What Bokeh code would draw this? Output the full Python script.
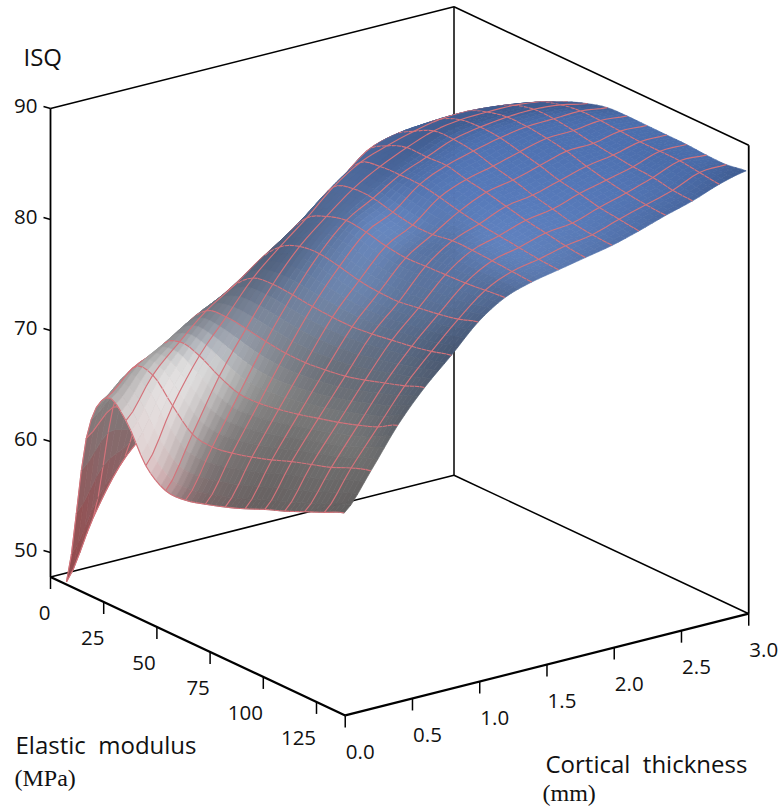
import numpy as np
from bokeh.plotting import figure
from bokeh.models import Range1d
from bokeh.core.properties import value
from bokeh.embed import file_html
from bokeh.resources import INLINE

# ---- data ----
thickness_mm = [0.0, 0.2, 0.4, 0.6, 0.8, 1.0, 1.2, 1.4, 1.6, 1.8, 2.0, 2.2, 2.4, 2.6, 2.8, 3.0]
modulus_mpa = [7.5, 16.8, 26.0, 35.5, 44.8, 54.0, 63.4, 72.7, 82.0, 91.4, 100.7, 110.0, 119.3, 128.7, 138.0]
isq_t00 = [48.0, 61.8, 66.3, 65.1, 61.9, 60.5, 60.5, 61.0, 61.6, 62.3, 63.1, 63.8, 64.6, 65.4, 66.2]
isq_t02 = [53.2, 64.0, 68.4, 68.6, 66.7, 65.0, 64.7, 65.0, 65.5, 66.1, 66.8, 67.4, 68.0, 68.8, 69.4]
isq_t04 = [57.3, 63.1, 69.5, 71.0, 70.6, 69.6, 68.9, 68.9, 69.2, 69.6, 70.1, 70.6, 71.2, 71.9, 72.9]
isq_t06 = [59.8, 66.0, 71.0, 73.2, 73.5, 73.3, 73.0, 72.8, 72.8, 73.0, 73.3, 73.8, 74.4, 75.0, 75.7]
isq_t08 = [62.0, 67.0, 72.0, 74.8, 76.4, 76.7, 76.6, 76.4, 76.3, 76.3, 76.5, 76.8, 77.1, 77.5, 78.0]
isq_t10 = [64.0, 68.5, 73.5, 76.6, 78.6, 79.5, 79.7, 79.4, 79.0, 78.8, 78.8, 79.1, 79.4, 79.8, 80.4]
isq_t12 = [66.0, 70.0, 75.0, 78.2, 80.6, 81.6, 82.1, 81.9, 81.5, 81.3, 81.4, 81.5, 81.6, 81.8, 82.0]
isq_t14 = [68.0, 72.0, 76.5, 80.0, 82.8, 83.5, 83.5, 83.1, 82.8, 82.8, 83.1, 83.1, 83.0, 82.9, 82.8]
isq_t16 = [70.0, 74.0, 78.5, 82.0, 84.4, 84.9, 85.0, 85.0, 84.7, 84.3, 84.0, 83.8, 83.6, 83.4, 83.3]
isq_t18 = [72.0, 76.0, 80.5, 84.0, 85.3, 86.0, 86.0, 86.1, 85.7, 85.4, 85.0, 84.6, 84.3, 84.0, 83.8]
isq_t20 = [74.0, 78.0, 82.0, 84.8, 86.0, 86.9, 87.0, 86.8, 86.3, 85.9, 85.4, 85.0, 84.6, 84.4, 84.3]
isq_t22 = [76.0, 79.5, 82.8, 85.0, 86.5, 87.3, 87.5, 87.4, 87.0, 86.6, 86.1, 85.8, 85.4, 85.2, 85.0]
isq_t24 = [77.5, 80.5, 83.2, 84.9, 86.6, 87.4, 87.8, 87.8, 87.6, 87.3, 86.8, 86.4, 86.1, 85.9, 85.8]
isq_t26 = [79.0, 81.5, 83.4, 84.8, 86.4, 87.4, 87.9, 87.9, 87.7, 87.4, 87.2, 87.0, 86.9, 86.6, 86.5]
isq_t28 = [80.2, 82.0, 83.5, 84.7, 86.0, 87.1, 87.7, 88.0, 88.0, 87.9, 87.8, 87.8, 87.8, 87.6, 87.4]
isq_t30 = [81.3, 82.5, 83.5, 84.6, 85.5, 86.5, 87.2, 87.7, 87.8, 87.8, 87.8, 87.8, 87.7, 87.7, 88.0]
isq_rows = [isq_t00, isq_t02, isq_t04, isq_t06, isq_t08, isq_t10, isq_t12, isq_t14,
            isq_t16, isq_t18, isq_t20, isq_t22, isq_t24, isq_t26, isq_t28, isq_t30]

isq_ticks = [50, 60, 70, 80, 90]
modulus_ticks = [0, 25, 50, 75, 100, 125]
modulus_labels = ["0", "25", "50", "75", "100", "125"]
thickness_ticks = [0.0, 0.5, 1.0, 1.5, 2.0, 2.5, 3.0]
thickness_labels = ["0.0", "0.5", "1.0", "1.5", "2.0", "2.5", "3.0"]

# ---- box of the 3D view ----
E_MAX, T_MAX, Z_LO, Z_HI = 138.5, 3.0, 47.8, 90.0


def proj_box(E, t, z):
    E, t, z = np.asarray(E, float), np.asarray(t, float), np.asarray(z, float)
    return 50 + 2.128 * E + 134.5 * t, 108 + 1.0 * E - 33.9 * t + 11.1 * (Z_HI - z)


def proj(E, t, z):
    E, t, z = np.asarray(E, float), np.asarray(t, float), np.asarray(z, float)
    return 50 + 2.128 * E + 134.0 * t, 107.6 + 1.02 * E - 33.4 * t + 11.1 * (Z_HI - z)


# ---- smooth resampling of the surface for drawing only ----
SUB = 4


def cr_weights(n, sub):
    m = (n - 1) * sub + 1
    W = np.zeros((m, n))
    for q in range(m):
        u = q / sub
        i = min(int(u), n - 2)
        s = u - i
        w = [-0.5 * s**3 + s**2 - 0.5 * s, 1.5 * s**3 - 2.5 * s**2 + 1,
             -1.5 * s**3 + 2 * s**2 + 0.5 * s, 0.5 * s**3 - 0.5 * s**2]
        for k, off in enumerate((-1, 0, 1, 2)):
            W[q, min(max(i + off, 0), n - 1)] += w[k]
    return W


Z = np.array(isq_rows)  # rows t, cols E
Wt = cr_weights(len(thickness_mm), SUB)
WE = cr_weights(len(modulus_mpa), SUB)
ZZ = Wt @ Z @ WE.T
EE = np.linspace(modulus_mpa[0], modulus_mpa[-1], ZZ.shape[1])
TT = np.linspace(thickness_mm[0], thickness_mm[-1], ZZ.shape[0])
Eg, Tg = np.meshgrid(EE, TT)
X, Y = proj(Eg, Tg, ZZ)


def blur(a, n):
    a = a.copy()
    for _ in range(n):
        b = np.pad(a, 1, mode="edge")
        a = (b[:-2, 1:-1] + b[2:, 1:-1] + b[1:-1, :-2] + b[1:-1, 2:] + 2 * a) / 6
    return a


# lighting + height colour
sz = (ZZ - 48) / 42 * 0.8
dz_t, dz_E = np.gradient(sz, TT / 3, EE / 138)
nlen = np.sqrt(dz_t**2 + dz_E**2 + 1)
nE, nT, nZ = -dz_E / nlen, -dz_t / nlen, 1 / nlen
L = np.array([0.6, 0.1, 0.8]) / np.linalg.norm([0.6, 0.1, 0.8])
nl = nE * L[0] + nT * L[1] + nZ * L[2]
raw = 1 - 1.1 * (0.8 - nl) + 1.0 * blur(nE, 20)
bright = blur(np.clip(raw, 0.58, 1.03), 14)
ZC = blur(ZZ, 2)
# the high plateau stays evenly lit
bright = bright + (np.maximum(bright, 0.84) - bright) * np.clip((ZC - 78) / 6, 0, 1)
# soft darkening towards the near (large modulus) rim
rim = np.clip((Eg - 105) / 33, 0, 1) ** 2
bright = bright * (1 - 0.1 * rim)
# the low front band on the large-modulus side is a plain mid grey
band = np.clip((Eg - 55) / 40, 0, 1) * np.clip((75 - ZC) / 6, 0, 1)
bright = bright * (1 - 0.2 * blur(band, 6))
zs = [50, 55, 60, 63, 66, 70, 73, 78, 85, 88]
rs = [255, 252, 232, 222, 232, 250, 190, 135, 86, 74]
gs = [128, 150, 180, 208, 225, 250, 200, 165, 120, 108]
bs = [132, 155, 184, 208, 225, 250, 218, 215, 182, 170]
R = np.interp(ZC, zs, rs) * bright
G = np.interp(ZC, zs, gs) * bright
B = np.interp(ZC, zs, bs) * bright


def hexc(r, g, b):
    return "#%02x%02x%02x" % (int(min(r, 255)), int(min(g, 255)), int(min(b, 255)))


# ---- figure ----
p = figure(width=779, height=807, output_backend="svg", toolbar_location=None,
           x_range=Range1d(0, 779), y_range=Range1d(807, 0),
           x_axis_type=None, y_axis_type=None, min_border=0)
p.outline_line_color = None
p.grid.visible = False
p.background_fill_color = "#ffffff"
AX = "#000000"


def seg(a, b, w):
    xa, ya = proj_box(*a)
    xb, yb = proj_box(*b)
    p.line([float(xa), float(xb)], [float(ya), float(yb)], line_color=AX, line_width=w)


# back walls
seg((0, 0, Z_LO), (0, 0, Z_HI), 1.8)
seg((0, 0, Z_HI), (0, T_MAX, Z_HI), 1.5)
seg((0, T_MAX, Z_HI), (E_MAX, T_MAX, Z_HI), 1.5)
seg((E_MAX, T_MAX, Z_HI), (E_MAX, T_MAX, Z_LO), 1.8)
seg((0, T_MAX, Z_HI), (0, T_MAX, Z_LO), 1.5)
seg((0, 0, Z_LO), (0, T_MAX, Z_LO), 1.5)
seg((0, T_MAX, Z_LO), (E_MAX, T_MAX, Z_LO), 1.5)

# surface, painted strip by strip from small modulus (far) to large (near)
GRID = "#d4727a"
for k in range(ZZ.shape[1] - 1):
    xs, ys, cols = [], [], []
    for l in range(ZZ.shape[0] - 2, -1, -1):
        xs.append([X[l, k], X[l, k + 1], X[l + 1, k + 1], X[l + 1, k]])
        ys.append([Y[l, k], Y[l, k + 1], Y[l + 1, k + 1], Y[l + 1, k]])
        cols.append(hexc((R[l, k] + R[l + 1, k + 1]) / 2, (G[l, k] + G[l + 1, k + 1]) / 2,
                         (B[l, k] + B[l + 1, k + 1]) / 2))
    p.patches(xs, ys, fill_color=cols, line_color=cols, line_width=0.7)
    lx, ly = [], []
    for j in range(0, len(thickness_mm) - 1):
        l = j * SUB
        lx.append([X[l, k], X[l, k + 1]])
        ly.append([Y[l, k], Y[l, k + 1]])
    if k % SUB == 0:
        lx.append(list(X[:, k]))
        ly.append(list(Y[:, k]))
    p.multi_line(lx, ly, line_color=GRID, line_width=1.15)

# front axes and ticks
seg((0, 0, Z_LO), (E_MAX, 0, Z_LO), 2.3)
seg((E_MAX, 0, Z_LO), (E_MAX, T_MAX, Z_LO), 2.3)

for v in isq_ticks:
    x, y = proj_box(0, 0, v)
    p.line([float(x) - 7, float(x)], [float(y) - 2, float(y)], line_color=AX, line_width=1.5)
for v in modulus_ticks:
    x, y = proj_box(v, 0, Z_LO)
    p.line([float(x), float(x)], [float(y), float(y) + 12], line_color=AX, line_width=1.5)
for v in thickness_ticks:
    x, y = proj_box(E_MAX, v, Z_LO)
    p.line([float(x), float(x)], [float(y), float(y) + 12], line_color=AX, line_width=1.5)

FONT = value("Open Sans")
SERIF = value("Liberation Serif")
SIZE = "20.5px"


def txt(x, y, s, font=FONT, size=SIZE, align="center"):
    p.text([x], [y], text=[s], text_font=font, text_font_size=size, text_color="#111111",
           text_align=align, text_baseline="middle")


for v in isq_ticks:
    x, y = proj_box(0, 0, v)
    txt(float(x) - 13, float(y) - 2.5, str(v), align="right")
mod_dx = [-6, -11, -13, -12, -18, -18]
for v, s, dx in zip(modulus_ticks, modulus_labels, mod_dx):
    x, y = proj_box(v, 0, Z_LO)
    txt(float(x) + dx, float(y) + 36.5, s)
for v, s in zip(thickness_ticks, thickness_labels):
    x, y = proj_box(E_MAX, v, Z_LO)
    txt(float(x) + 15, float(y) + 36.5, s)

txt(23, 56, "ISQ", size="24px", align="left")
txt(15, 744, "Elastic\u00a0 modulus", size="24px", align="left")
txt(14, 777, "(MPa)", font=SERIF, size="24px", align="left")
txt(545, 763, "Cortical\u00a0 thickness", size="24px", align="left")
txt(542, 792, "(mm)", font=SERIF, size="24px", align="left")

open("out.html", "w").write(file_html(p, INLINE))
